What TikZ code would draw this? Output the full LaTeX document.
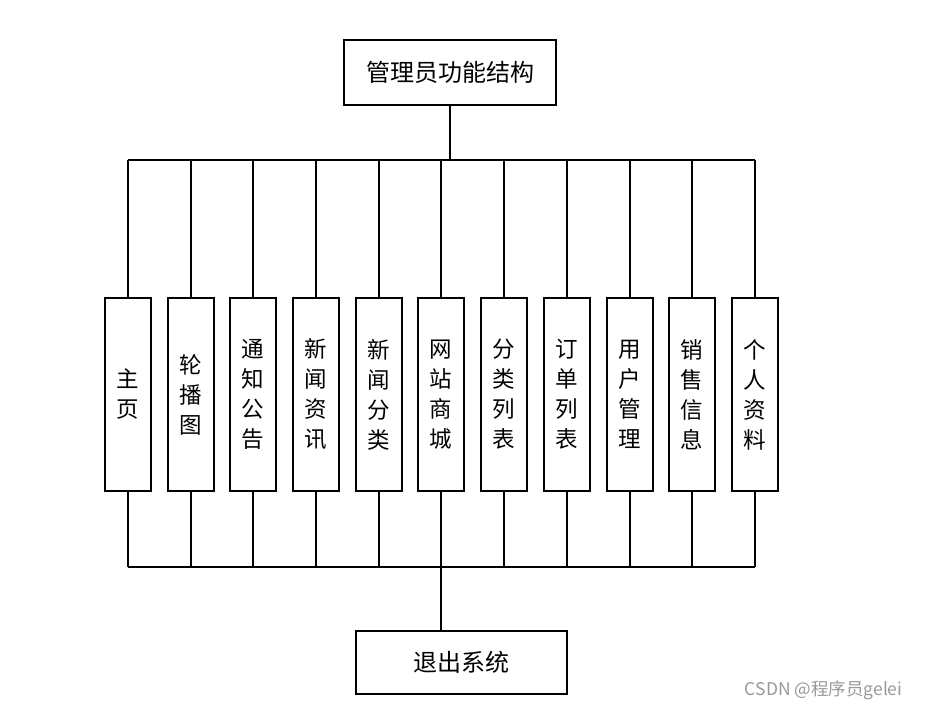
\documentclass[tikz,border=0pt]{standalone}
\usepackage{fontspec}
\setmainfont{Noto Sans CJK SC}
\begin{document}
\begin{tikzpicture}[x=1pt,y=-1pt,
  ln/.style={line width=2pt,black},
  headbox/.style={draw=black,line width=2pt,minimum width=212pt,minimum height=65pt,inner sep=0pt,font=\fontsize{24}{28}\selectfont},
  modbox/.style={draw=black,line width=2pt,minimum width=46pt,minimum height=193pt,inner sep=0pt,align=center,font=\fontsize{22.5}{30}\selectfont}]
\useasboundingbox (0,0) rectangle (925,710);
\node[headbox] (top) at (450,72) {管理员功能结构};
\node[headbox,minimum width=211pt,minimum height=63pt] (exit) at (461.5,662) {退出系统};
\foreach \i/\x/\t in {1/128/主\\页, 2/191/轮\\播\\图, 3/253/通\\知\\公\\告, 4/316/新\\闻\\资\\讯, 5/379/新\\闻\\分\\类, 6/441/网\\站\\商\\城, 7/504/分\\类\\列\\表, 8/567/订\\单\\列\\表, 9/630/用\\户\\管\\理, 10/692/销\\售\\信\\息, 11/755/个\\人\\资\\料}{
  \node[modbox] (b\i) at (\x,394.5) {\t};
}
\coordinate (busT) at (0,160);
\coordinate (busB) at (0,567);
\draw[ln] (top.south) -- (top.south |- busT);
\draw[ln] (b1.north |- busT) -- (b11.north |- busT);
\draw[ln] (b1.south |- busB) -- (b11.south |- busB);
\foreach \i in {1,...,11}{
  \draw[ln] (b\i.north) -- (b\i.north |- busT);
  \draw[ln] (b\i.south) -- (b\i.south |- busB);
}
\draw[ln] (b6.south |- busB) -- (b6.south |- exit.north);
\node[text=gray!80,font=\fontsize{17.5}{20}\selectfont,anchor=east] (wm) at (906,690) {CSDN @程序员gelei};
\end{tikzpicture}
\end{document}
